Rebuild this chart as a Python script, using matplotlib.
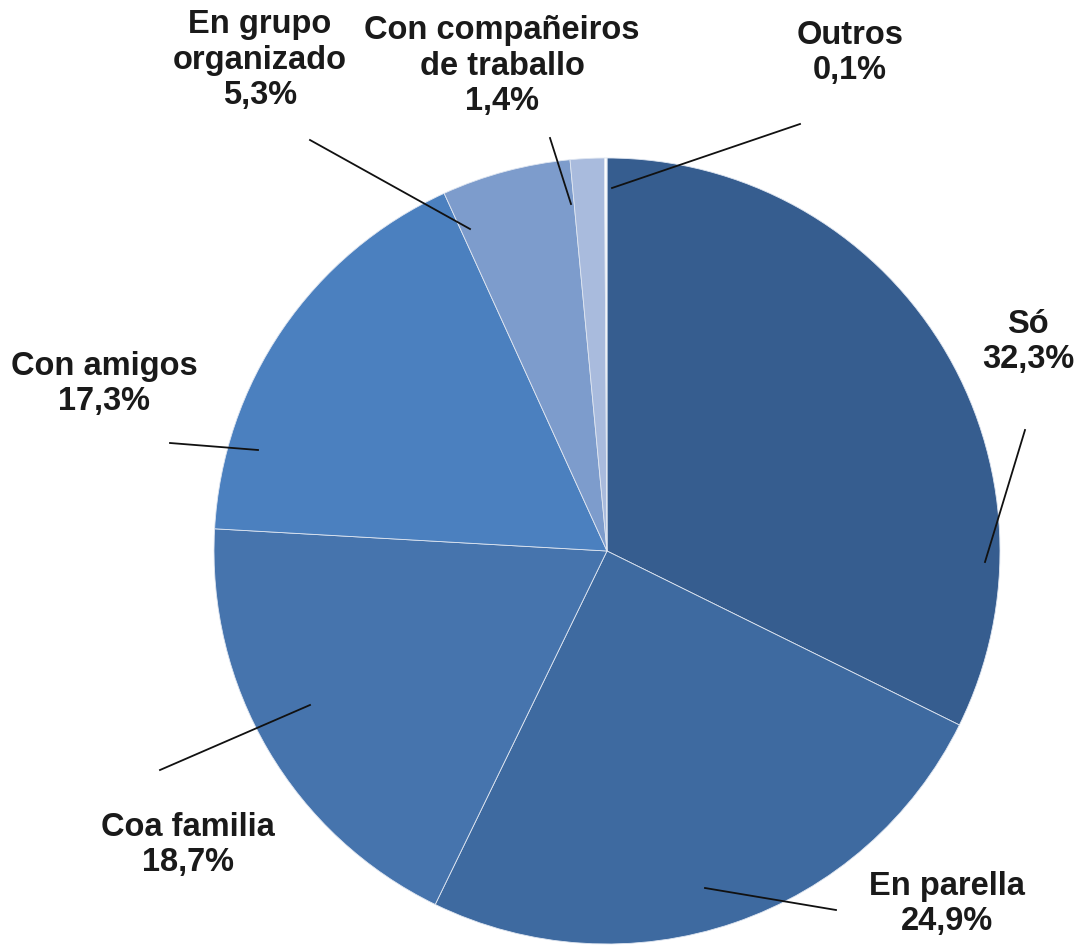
import numpy as np
import matplotlib.pyplot as plt

labels = ['Só', 'En parella', 'Coa familia', 'Con amigos', 'En grupo\norganizado',
          'Con compañeiros\nde traballo', 'Outros']
values = [32.3, 24.9, 18.7, 17.3, 5.3, 1.4, 0.1]
colors = ['#365d8f', '#3e6aa0', '#4674ad', '#4b80bf', '#7d9ccc', '#a9bbdd', '#ffffff']

# label centre (px) and leader line ends (px), image coords with y going down
label_pos = [(1028, 342), (947, 904), (188, 845), (104, 384), (260, 60), (502, 66), (850, 53)]
line_in = [(985, 562), (705, 888), (310, 705), (258, 450), (470, 229), (571, 204), (612, 188)]
line_out = [(1025, 430), (836, 910), (160, 770), (170, 443), (310, 140), (550, 138), (800, 124)]

W, H = 1080, 947
plt.rcParams['font.family'] = ['Liberation Sans', 'DejaVu Sans']

fig = plt.figure(figsize=(W / 100, H / 100), dpi=100)
ax = fig.add_axes([0, 0, 1, 1])

ax.pie(values, colors=colors, startangle=90, counterclock=False,
       center=(607, H - 551), radius=393, frame=True,
       wedgeprops=dict(edgecolor='#dfe6f1', linewidth=0.6))
ax.set_xlim(0, W)
ax.set_ylim(0, H)
ax.axis('off')

for lab, v, (lx, ly), (x0, y0), (x1, y1) in zip(labels, values, label_pos, line_in, line_out):
    ax.plot([x0, x1], [H - y0, H - y1], color='#111111', lw=1.3)
    ax.text(lx, H - ly, lab + '\n' + f'{v:.1f}%'.replace('.', ','),
            ha='center', va='center', fontsize=23.5, fontweight='bold',
            color='#1a1a1a', linespacing=1.17)

fig.savefig('out.png', dpi=100)
